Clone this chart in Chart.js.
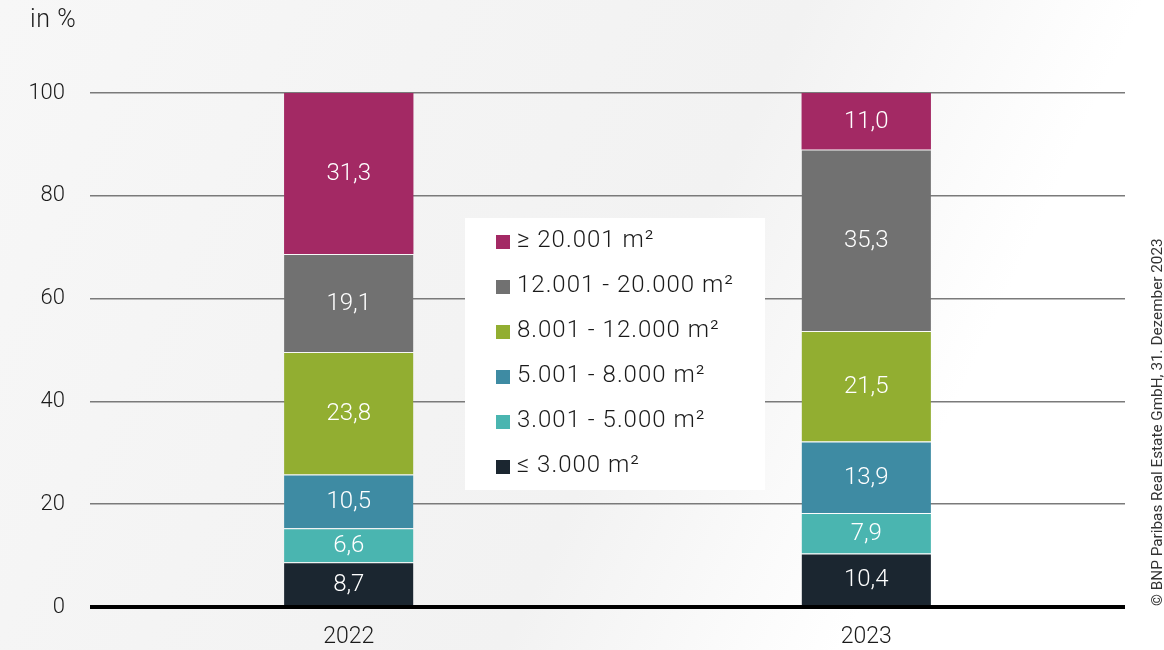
<!DOCTYPE html>
<html lang="de">
<head>
  <meta charset="UTF-8">
  <title>Flächenklassen</title>
  <style>
    html, body {
      margin: 0;
      padding: 0;
    }
    body {
      width: 1164px;
      height: 650px;
      background: linear-gradient(115deg, #f7f7f7 0%, #f4f4f4 30%, #f2f2f2 55%, #ffffff 78%);
      font-family: Roboto, "Open Sans", sans-serif;
    }
    .chart-container {
      position: relative;
      width: 1164px;
      height: 650px;
    }
  </style>
</head>
<body>
  <div class="chart-container">
    <canvas id="flaechenChart"></canvas>
  </div>

  <script src="https://cdn.jsdelivr.net/npm/chart.js"></script>
  <script>
    // Daten
    const jahre = ['2022', '2023'];
    const klassen = ['≤ 3.000 m²', '3.001 - 5.000 m²', '5.001 - 8.000 m²', '8.001 - 12.000 m²', '12.001 - 20.000 m²', '≥ 20.001 m²'];
    const bis3000 = [8.7, 10.4];
    const bis5000 = [6.6, 7.9];
    const bis8000 = [10.5, 13.9];
    const bis12000 = [23.8, 21.5];
    const bis20000 = [19.1, 35.3];
    const ab20001 = [31.3, 11.0];
    const yTicks = [0, 20, 40, 60, 80, 100];
    const farben = ['#1b2630', '#4ab5b0', '#3e8ba3', '#92ae31', '#717171', '#a32964'];

    const werte = [bis3000, bis5000, bis8000, bis12000, bis20000, ab20001];
    const schrift = 'Roboto, "Open Sans", sans-serif';

    // Werte in die Segmente schreiben
    const wertLabels = {
      id: 'wertLabels',
      afterDatasetsDraw(chart) {
        const ctx = chart.ctx;
        ctx.save();
        ctx.fillStyle = '#ffffff';
        ctx.font = '300 24px ' + schrift;
        ctx.textAlign = 'center';
        ctx.textBaseline = 'middle';
        chart.data.datasets.forEach((ds, i) => {
          chart.getDatasetMeta(i).data.forEach((bar, j) => {
            const y = (bar.y + bar.base) / 2;
            ctx.fillText(ds.data[j].toFixed(1).replace('.', ','), bar.x, y + 1);
          });
        });
        ctx.restore();
      }
    };

    // Legende im weißen Kasten, Einheit, Quelle
    const extras = {
      id: 'extras',
      afterDatasetsDraw(chart) {
        const ctx = chart.ctx;
        ctx.save();
        ctx.fillStyle = '#ffffff';
        ctx.fillRect(465, 218, 300, 272);
        ctx.font = '300 24px ' + schrift;
        ctx.letterSpacing = '1px';
        ctx.textBaseline = 'middle';
        const ds = chart.data.datasets.slice().reverse();
        ds.forEach((d, i) => {
          const y = 241 + i * 45;
          ctx.fillStyle = d.backgroundColor;
          ctx.fillRect(496, y - 6, 14, 14);
          ctx.fillStyle = '#1a1a1a';
          ctx.fillText(d.label, 517, y);
        });

        ctx.fillStyle = '#1a1a1a';
        ctx.textAlign = 'left';
        ctx.font = '300 25px ' + schrift;
        ctx.letterSpacing = '0.6px';
        ctx.fillText('in %', 30, 21);

        ctx.letterSpacing = '0px';
        ctx.translate(1158, 606);
        ctx.rotate(-Math.PI / 2);
        ctx.font = '15.3px ' + schrift;
        ctx.fillStyle = '#333333';
        ctx.textAlign = 'left';
        ctx.fillText('© BNP Paribas Real Estate GmbH, 31. Dezember 2023', 0, 0);
        ctx.restore();
      }
    };

    const ctx = document.getElementById('flaechenChart').getContext('2d');
    new Chart(ctx, {
      type: 'bar',
      data: {
        labels: jahre,
        datasets: klassen.map((k, i) => ({
          label: k,
          data: werte[i],
          backgroundColor: farben[i],
          borderColor: 'rgba(255,255,255,0.35)',
          borderWidth: { top: i === klassen.length - 1 ? 0 : 1 },
          borderSkipped: false,
          barPercentage: 0.25,
          categoryPercentage: 1
        }))
      },
      options: {
        responsive: true,
        maintainAspectRatio: false,
        animation: false,
        layout: {
          padding: { top: 93, right: 39, left: 0, bottom: 0 }
        },
        plugins: {
          legend: { display: false },
          tooltip: { enabled: false }
        },
        scales: {
          x: {
            stacked: true,
            grid: { display: false },
            border: { display: false },
            ticks: {
              color: '#1a1a1a',
              font: { size: 23, family: schrift, weight: 300 },
              padding: 8
            },
            afterFit(scale) { scale.height = 43; }
          },
          y: {
            stacked: true,
            min: 0,
            max: 100,
            afterBuildTicks(scale) {
              scale.ticks = yTicks.map(v => ({ value: v }));
            },
            border: { display: false },
            grid: {
              drawTicks: false,
              color: c => c.tick && c.tick.value === 0 ? '#000000' : '#7a7a7a',
              lineWidth: c => c.tick && c.tick.value === 0 ? 4 : 1.5
            },
            ticks: {
              color: '#1a1a1a',
              font: { size: 22, family: schrift, weight: 300 },
              padding: 25
            },
            afterFit(scale) { scale.width = 90; }
          }
        }
      },
      plugins: [wertLabels, extras]
    });
  </script>
</body>
</html>
